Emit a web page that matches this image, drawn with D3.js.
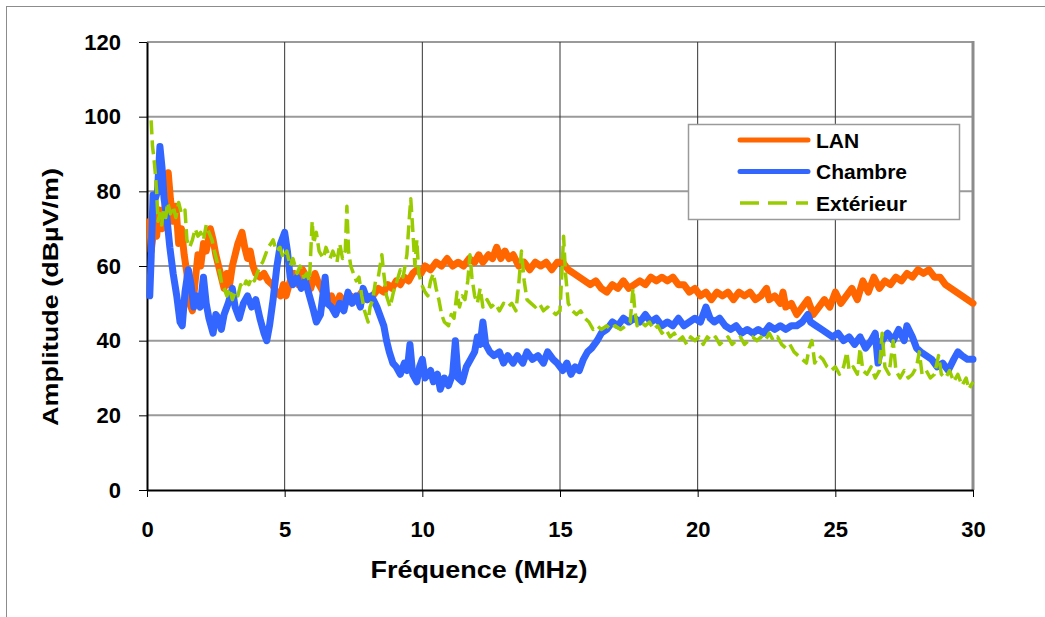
<!DOCTYPE html>
<html>
<head>
<meta charset="utf-8">
<script src="https://cdn.jsdelivr.net/npm/d3@7"></script>
<style>
  body { margin: 0; background: #fff; }
  svg text { font-family: "Liberation Sans", Arial, sans-serif; font-weight: bold; fill: #000; }
</style>
</head>
<body>
<script>
// readings: [MHz, dBµV/m]
const lan = [[0.10,72],[0.15,64],[0.25,70],[0.35,68],[0.45,75],[0.55,70],[0.62,73],[0.70,80],[0.77,85],[0.85,78],[0.95,72],[1.05,76],[1.15,66],[1.25,70],[1.35,63],[1.45,58],[1.55,50],[1.65,48],[1.75,56],[1.85,63],[1.95,60],[2.05,66],[2.15,64],[2.3,70],[2.4,67],[2.5,63],[2.6,60],[2.7,57],[2.8,54],[2.9,58],[3.0,55],[3.1,60],[3.2,63],[3.3,66],[3.45,69],[3.55,65],[3.65,62],[3.75,64],[3.85,60],[3.95,58],[4.1,57],[4.25,58],[4.4,56],[4.55,55],[4.7,53],[4.85,52],[4.95,55],[5.05,52],[5.2,56],[5.35,58],[5.5,55],[5.65,59],[5.8,57],[5.95,54],[6.1,58],[6.25,55],[6.4,53],[6.55,50],[6.7,52],[6.85,49],[7.0,52],[7.2,50],[7.4,52],[7.6,51],[7.8,53],[8.0,51],[8.2,52],[8.4,54],[8.6,53],[8.75,55],[8.9,54],[9.05,56],[9.2,55],[9.35,57],[9.5,56],[9.65,58],[9.8,59],[9.95,58],[10.1,60],[10.3,59],[10.5,61],[10.7,60],[10.9,62],[11.1,60],[11.3,61],[11.5,60],[11.7,62],[11.9,61],[12.05,63],[12.2,61],[12.4,63],[12.55,62],[12.7,65],[12.85,62],[13.0,64],[13.15,62],[13.3,63],[13.5,60],[13.7,61],[13.9,59],[14.1,61],[14.3,60],[14.5,61],[14.7,59],[14.9,61],[15.1,61],[15.3,59],[15.5,58],[15.7,57],[15.9,56],[16.1,55],[16.3,56],[16.5,54],[16.7,53],[16.9,55],[17.1,54],[17.3,56],[17.5,54],[17.7,55],[17.9,56],[18.1,55],[18.3,57],[18.5,56],[18.7,57],[18.9,56],[19.1,57],[19.3,55],[19.5,55],[19.7,53],[19.9,54],[20.1,52],[20.3,53],[20.5,51],[20.7,53],[20.9,52],[21.1,53],[21.3,51],[21.5,53],[21.7,52],[21.9,53],[22.1,51],[22.3,52],[22.5,54],[22.6,51],[22.8,52],[23.0,50],[23.1,53],[23.2,49],[23.4,50],[23.6,47],[23.8,49],[24.0,51],[24.2,47],[24.4,49],[24.6,51],[24.8,49],[25.0,53],[25.2,50],[25.4,52],[25.6,54],[25.8,51],[26.0,56],[26.2,53],[26.4,57],[26.6,54],[26.8,56],[27.0,55],[27.2,57],[27.4,56],[27.6,58],[27.8,57],[28.0,59],[28.2,58],[28.4,59],[28.6,57],[28.8,57],[29.0,55],[29.2,54],[29.4,53],[29.6,52],[29.8,51],[30.0,50]];

const chambre = [[0.10,52],[0.15,62],[0.22,79],[0.30,78],[0.38,80],[0.47,92],[0.55,86],[0.62,78],[0.72,73],[0.83,65],[0.95,58],[1.08,52],[1.2,45],[1.28,44],[1.38,53],[1.5,59],[1.6,55],[1.7,49],[1.8,52],[1.93,49],[2.05,57],[2.15,50],[2.25,46],[2.4,42],[2.5,47],[2.6,46],[2.7,43],[2.8,47],[2.95,50],[3.1,54],[3.2,49],[3.35,46],[3.5,50],[3.65,52],[3.8,49],[3.95,51],[4.1,46],[4.25,42],[4.35,40],[4.45,44],[4.58,51],[4.72,60],[4.85,66],[5.0,69],[5.1,64],[5.2,57],[5.3,55],[5.45,57],[5.6,54],[5.75,56],[5.9,52],[6.05,48],[6.15,45],[6.3,47],[6.47,57],[6.55,50],[6.7,49],[6.85,47],[7.0,50],[7.15,48],[7.3,53],[7.45,50],[7.6,52],[7.75,49],[7.85,54],[8.0,51],[8.15,52],[8.35,49],[8.5,46],[8.6,44],[8.7,40],[8.8,37],[8.93,34],[9.05,33],[9.2,31],[9.35,34],[9.45,32],[9.55,39],[9.65,31],[9.8,29],[9.9,33],[10.0,35],[10.1,30],[10.3,32],[10.4,29],[10.55,31],[10.65,27],[10.8,30],[10.95,28],[11.1,31],[11.2,40],[11.3,30],[11.45,29],[11.6,33],[11.75,35],[11.9,37],[12.0,41],[12.1,39],[12.2,45],[12.3,39],[12.45,37],[12.6,36],[12.8,37],[12.95,34],[13.1,36],[13.3,34],[13.45,36],[13.65,34],[13.8,37],[14.0,35],[14.2,36],[14.4,34],[14.55,37],[14.75,35],[14.9,34],[15.1,32],[15.25,34],[15.4,31],[15.55,33],[15.7,32],[15.85,35],[16.0,37],[16.15,38],[16.35,40],[16.5,42],[16.7,43],[16.9,45],[17.1,44],[17.3,46],[17.5,45],[17.7,46],[17.9,45],[18.1,47],[18.3,45],[18.5,46],[18.7,44],[18.9,45],[19.1,44],[19.3,46],[19.5,44],[19.7,45],[19.9,46],[20.1,45],[20.3,49],[20.45,46],[20.6,45],[20.8,46],[21.0,44],[21.2,43],[21.4,44],[21.6,42],[21.8,43],[22.0,42],[22.2,43],[22.4,42],[22.6,44],[22.8,43],[23.0,44],[23.2,43],[23.4,44],[23.6,44],[23.8,45],[24.0,47],[24.1,45],[24.3,44],[24.5,43],[24.7,42],[24.9,41],[25.1,42],[25.3,40],[25.5,41],[25.7,39],[25.9,41],[26.1,38],[26.3,40],[26.45,42],[26.55,34],[26.7,40],[26.9,42],[27.1,40],[27.3,43],[27.5,40],[27.6,44],[27.8,41],[27.95,38],[28.1,37],[28.3,36],[28.5,35],[28.7,33],[28.9,34],[29.1,32],[29.3,35],[29.45,37],[29.6,36],[29.8,35],[30.0,35]];

const exterieur = [[0.15,99],[0.2,92],[0.25,89],[0.3,85],[0.35,80],[0.4,72],[0.47,74],[0.53,71],[0.6,75],[0.68,73],[0.75,77],[0.85,74],[0.95,76],[1.05,73],[1.15,77],[1.25,74],[1.38,75],[1.45,67],[1.55,65],[1.65,67],[1.75,70],[1.85,68],[1.95,69],[2.05,67],[2.15,71],[2.25,69],[2.36,67],[2.45,64],[2.55,61],[2.65,58],[2.72,55],[2.8,54],[2.9,52],[3.0,54],[3.1,51],[3.2,53],[3.3,52],[3.4,55],[3.5,54],[3.6,56],[3.7,55],[3.8,57],[3.9,56],[4.0,58],[4.1,60],[4.2,61],[4.3,63],[4.4,65],[4.5,66],[4.58,67],[4.7,64],[4.83,65],[4.95,62],[5.08,64],[5.2,60],[5.3,62],[5.45,58],[5.56,60],[5.7,57],[5.8,58],[5.9,56],[6.0,72],[6.05,66],[6.15,69],[6.25,64],[6.4,62],[6.5,65],[6.65,62],[6.75,64],[6.9,61],[7.0,66],[7.1,62],[7.2,64],[7.26,76],[7.32,64],[7.4,60],[7.5,58],[7.6,56],[7.7,57],[7.8,52],[7.9,48],[8.03,45],[8.1,49],[8.2,51],[8.3,56],[8.4,57],[8.53,63],[8.6,58],[8.7,52],[8.83,49],[8.95,53],[9.08,56],[9.2,59],[9.3,57],[9.44,63],[9.52,72],[9.58,78],[9.65,70],[9.73,60],[9.8,67],[9.87,58],[9.98,55],[10.1,53],[10.2,52],[10.3,56],[10.4,58],[10.5,54],[10.6,51],[10.7,47],[10.8,45],[10.95,44],[11.05,47],[11.15,46],[11.26,53],[11.35,49],[11.45,52],[11.55,51],[11.65,56],[11.73,63],[11.8,57],[11.9,52],[12.0,50],[12.1,54],[12.2,49],[12.35,51],[12.5,49],[12.65,50],[12.8,48],[12.95,50],[13.1,49],[13.25,50],[13.4,48],[13.5,55],[13.6,64],[13.7,56],[13.8,51],[13.95,50],[14.1,49],[14.25,50],[14.4,48],[14.55,49],[14.7,48],[14.85,47],[15.0,48],[15.08,60],[15.13,68],[15.2,58],[15.3,50],[15.45,48],[15.6,47],[15.75,48],[15.9,46],[16.05,45],[16.2,43],[16.35,44],[16.5,43],[16.7,44],[16.85,43],[17.0,44],[17.2,43],[17.4,44],[17.55,45],[17.65,54],[17.72,48],[17.8,44],[17.95,45],[18.1,44],[18.25,45],[18.4,43],[18.55,44],[18.7,42],[18.85,43],[19.0,41],[19.15,42],[19.3,40],[19.45,41],[19.6,39],[19.75,41],[19.9,40],[20.05,41],[20.2,39],[20.35,41],[20.5,40],[20.65,41],[20.8,39],[20.95,40],[21.1,41],[21.25,39],[21.4,40],[21.55,41],[21.7,39],[21.85,40],[22.0,41],[22.15,40],[22.3,41],[22.45,40],[22.6,42],[22.75,40],[22.9,41],[23.05,39],[23.2,38],[23.35,39],[23.5,37],[23.65,36],[23.8,35],[23.95,34],[24.05,38],[24.15,40],[24.25,34],[24.4,36],[24.55,35],[24.7,33],[24.85,32],[25.0,33],[25.15,31],[25.3,33],[25.42,37],[25.5,32],[25.65,33],[25.8,31],[25.9,38],[26.0,32],[26.15,31],[26.3,33],[26.45,30],[26.6,32],[26.7,42],[26.8,33],[26.95,31],[27.1,40],[27.2,32],[27.35,30],[27.5,32],[27.65,30],[27.8,31],[27.95,33],[28.05,37],[28.15,31],[28.3,32],[28.45,30],[28.6,31],[28.75,36],[28.85,31],[29.0,30],[29.15,32],[29.3,29],[29.45,31],[29.6,28],[29.75,30],[29.85,27],[30.0,29]];

const seriesNames = ["LAN", "Chambre", "Extérieur"];
const xTicks = [0, 5, 10, 15, 20, 25, 30];
const yTicks = [0, 20, 40, 60, 80, 100, 120];

const width = 1045, height = 617;
const colors = ["#ff6600", "#3366ff", "#99cc00"];

const svg = d3.select("body").append("svg")
  .attr("width", width)
  .attr("height", height);

// outer chart frame (runs off the right/bottom edge)
svg.append("rect")
  .attr("x", 6.5).attr("y", 6.5)
  .attr("width", 1060).attr("height", 640)
  .attr("fill", "#fff").attr("stroke", "#8c8c8c");

const x = d3.scaleLinear().domain([0, 30]).range([147, 973]);
const y = d3.scaleLinear().domain([0, 120]).range([490, 42]);

// gridlines
svg.append("g").selectAll("line")
  .data(yTicks.filter(d => d > 0))
  .join("line")
  .attr("x1", x(0)).attr("x2", x(30))
  .attr("y1", d => y(d)).attr("y2", d => y(d))
  .attr("stroke", "#9a9a9a").attr("stroke-width", 2);

svg.append("g").selectAll("line")
  .data(xTicks.filter(d => d > 0 && d < 30))
  .join("line")
  .attr("x1", d => x(d)).attr("x2", d => x(d))
  .attr("y1", y(120)).attr("y2", y(0))
  .attr("stroke", "#333").attr("stroke-width", 1);

// right border of plot area
svg.append("line")
  .attr("x1", x(30)).attr("x2", x(30))
  .attr("y1", y(120) - 1).attr("y2", y(0))
  .attr("stroke", "#8c8c8c").attr("stroke-width", 3);

// axes
const yAxis = svg.append("g")
  .attr("transform", `translate(${x(0)},0)`)
  .call(d3.axisLeft(y).tickValues(yTicks).tickSize(8).tickSizeOuter(0).tickPadding(18));
const xAxis = svg.append("g")
  .attr("transform", `translate(0,${y(0)})`)
  .call(d3.axisBottom(x).tickValues(xTicks).tickSize(7).tickSizeOuter(0).tickPadding(24));

[yAxis, xAxis].forEach(ax => {
  ax.attr("font-size", null).attr("font-family", null);
  ax.select(".domain").attr("stroke", "#000").attr("stroke-width", 2);
  ax.selectAll(".tick line").attr("stroke", "#000");
  ax.selectAll("text").style("font-size", "22px");
});

// series (drawn in legend order, last one on top)
const line = d3.line().x(d => x(d[0])).y(d => y(d[1]));
const data = [lan, chambre, exterieur];

svg.append("g").selectAll("path")
  .data(data)
  .join("path")
  .attr("d", line)
  .attr("fill", "none")
  .attr("stroke", (d, i) => colors[i])
  .attr("stroke-width", (d, i) => i < 2 ? 7 : 3.5)
  .attr("stroke-dasharray", (d, i) => i < 2 ? null : "14,6")
  .attr("stroke-linejoin", "round")
  .attr("stroke-linecap", (d, i) => i < 2 ? "round" : "butt");

// legend
const legend = svg.append("g");
legend.append("rect")
  .attr("x", 688.5).attr("y", 124.5)
  .attr("width", 271).attr("height", 95)
  .attr("fill", "#fff").attr("stroke", "#9a9a9a").attr("stroke-width", 1.5);

const rows = legend.selectAll("g.item")
  .data(seriesNames)
  .join("g")
  .attr("class", "item")
  .attr("transform", (d, i) => `translate(0,${140 + i * 31.5})`);

rows.append("line")
  .attr("x1", 740).attr("x2", 808)
  .attr("stroke", (d, i) => colors[i])
  .attr("stroke-width", (d, i) => i < 2 ? 5 : 3.5)
  .attr("stroke-linecap", (d, i) => i < 2 ? "round" : "butt")
  .attr("stroke-dasharray", (d, i) => i < 2 ? null : "19,9");

rows.append("text")
  .attr("x", 816)
  .attr("dy", "0.36em")
  .style("font-size", "21px")
  .text(d => d);

// axis titles
svg.append("text")
  .attr("x", 479).attr("y", 578)
  .attr("text-anchor", "middle")
  .attr("textLength", 217)
  .attr("lengthAdjust", "spacingAndGlyphs")
  .style("font-size", "23px")
  .text("Fréquence (MHz)");

svg.append("text")
  .attr("transform", "translate(58,297) rotate(-90)")
  .attr("text-anchor", "middle")
  .attr("textLength", 258)
  .attr("lengthAdjust", "spacingAndGlyphs")
  .style("font-size", "22px")
  .text("Amplitude (dBµV/m)");
</script>
</body>
</html>
